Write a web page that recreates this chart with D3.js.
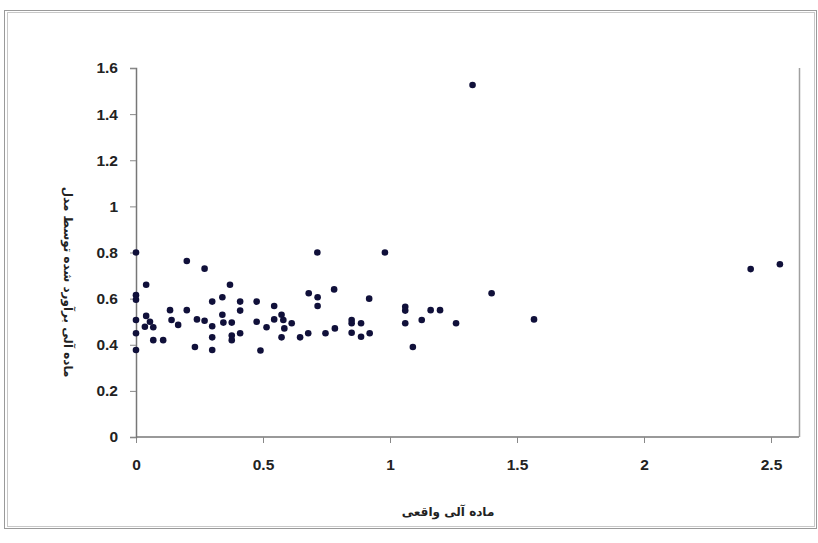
<!DOCTYPE html>
<html>
<head>
<meta charset="utf-8">
<script src="https://cdn.jsdelivr.net/npm/d3@7"></script>
<style>
  body { margin: 0; background: #fff; }
  svg { display: block; }
</style>
</head>
<body>
<script>
var svgWidth = 818;
var svgHeight = 543;

// measured values (actual organic matter vs. model estimate)
var actual = [
  0, 0.20, 0.27, 0.04, 0.37, 0, 0, 0.34, 0.30, 0.41, 0.475, 0.41, 0.134, 0.20,
  0.04, 0.34, 0, 0.055, 0.068, 0.035, 0.14, 0.166, 0.24, 0.27, 0.30, 0.344, 0.377,
  0, 0.377, 0.41, 0.377, 0.30, 0.068, 0.107, 0.232, 0.30, 0, 0.475, 0.49,
  0.714, 0.98, 0.78, 0.68, 0.715, 0.715, 0.918, 0.544, 0.544, 0.573, 0.58, 0.514,
  0.584, 0.613, 0.573, 0.646, 0.678, 0.746, 0.783, 0.849, 0.849, 0.886, 0.849,
  0.886, 0.92, 1.40, 1.06, 1.06, 1.16, 1.197, 1.125, 1.06, 1.26, 1.567, 1.09,
  1.325, 2.42, 2.535
];
var estimated = [
  0.80, 0.763, 0.73, 0.66, 0.66, 0.615, 0.595, 0.606, 0.587, 0.587, 0.587, 0.548, 0.55, 0.55,
  0.525, 0.53, 0.507, 0.50, 0.476, 0.478, 0.507, 0.486, 0.51, 0.504, 0.48, 0.496, 0.496,
  0.45, 0.44, 0.45, 0.42, 0.432, 0.42, 0.42, 0.39, 0.377, 0.377, 0.50, 0.375,
  0.80, 0.80, 0.64, 0.623, 0.606, 0.568, 0.60, 0.568, 0.51, 0.53, 0.507, 0.476,
  0.471, 0.493, 0.432, 0.432, 0.45, 0.45, 0.471, 0.507, 0.493, 0.493, 0.452,
  0.435, 0.45, 0.623, 0.565, 0.548, 0.55, 0.55, 0.507, 0.493, 0.493, 0.51, 0.39,
  1.526, 0.728, 0.749
];
var xTicks = [0, 0.5, 1, 1.5, 2, 2.5];
var yTicks = [0, 0.2, 0.4, 0.6, 0.8, 1, 1.2, 1.4, 1.6];
var xTitle = "ماده آلی واقعی";
var yTitle = "ماده آلی برآورد شده توسط مدل";

var points = actual.map(function (d, i) {
    return { x: d, y: estimated[i] };
});

var plotLeft = 136, plotRight = 799, plotTop = 68, plotBottom = 437;

var xScale = d3.scaleLinear().domain([0, 2.5]).range([plotLeft, plotLeft + 635]);
var yScale = d3.scaleLinear().domain([0, 1.6]).range([plotBottom, plotTop]);

var svg = d3.select("body")
    .append("svg")
    .attr("width", svgWidth)
    .attr("height", svgHeight);

// outer frame (double line)
svg.append("rect")
    .attr("x", 4.5).attr("y", 10.5)
    .attr("width", 812).attr("height", 518)
    .attr("fill", "none").attr("stroke", "#9a9a9a").attr("stroke-width", 1);
svg.append("rect")
    .attr("x", 7.5).attr("y", 12.5)
    .attr("width", 807).attr("height", 514)
    .attr("fill", "none").attr("stroke", "#c8c8c8").attr("stroke-width", 1);

// plot area right border
svg.append("line")
    .attr("x1", plotRight + 0.5).attr("x2", plotRight + 0.5)
    .attr("y1", plotTop).attr("y2", plotBottom)
    .attr("stroke", "#a0a0a0").attr("stroke-width", 1.5);

var xAxis = svg.append("g")
    .attr("transform", "translate(0," + plotBottom + ")")
    .call(d3.axisBottom(xScale).tickValues(xTicks).tickSize(6).tickPadding(16)
        .tickFormat(function (d) { return d; }));
xAxis.select(".domain").attr("d", "M" + plotLeft + ",0H" + plotRight);

var yAxis = svg.append("g")
    .attr("transform", "translate(" + plotLeft + ",0)")
    .call(d3.axisLeft(yScale).tickValues(yTicks).tickSize(6).tickPadding(12)
        .tickFormat(function (d) { return d; }));

svg.selectAll(".domain").attr("stroke", "#777").attr("stroke-width", 1.5);
svg.selectAll(".tick line").attr("stroke", "#888");
svg.selectAll(".tick text")
    .attr("font-family", "Liberation Sans, Arial, sans-serif")
    .attr("font-size", "15.5px")
    .attr("font-weight", "bold")
    .attr("fill", "#222");

svg.selectAll("circle")
    .data(points)
    .enter()
    .append("circle")
    .attr("cx", function (d) { return xScale(d.x); })
    .attr("cy", function (d) { return yScale(d.y); })
    .attr("r", 3.3)
    .attr("fill", "#10103a");

svg.append("text")
    .text(xTitle)
    .attr("x", 448)
    .attr("y", 516)
    .attr("text-anchor", "middle")
    .attr("direction", "rtl")
    .attr("font-family", "DejaVu Sans, sans-serif")
    .attr("font-size", "12px")
    .attr("font-weight", "bold")
    .attr("fill", "#222");

svg.append("text")
    .text(yTitle)
    .attr("transform", "translate(64,282) rotate(90)")
    .attr("text-anchor", "middle")
    .attr("direction", "rtl")
    .attr("font-family", "DejaVu Sans, sans-serif")
    .attr("font-size", "12px")
    .attr("font-weight", "bold")
    .attr("fill", "#222");
</script>
</body>
</html>
